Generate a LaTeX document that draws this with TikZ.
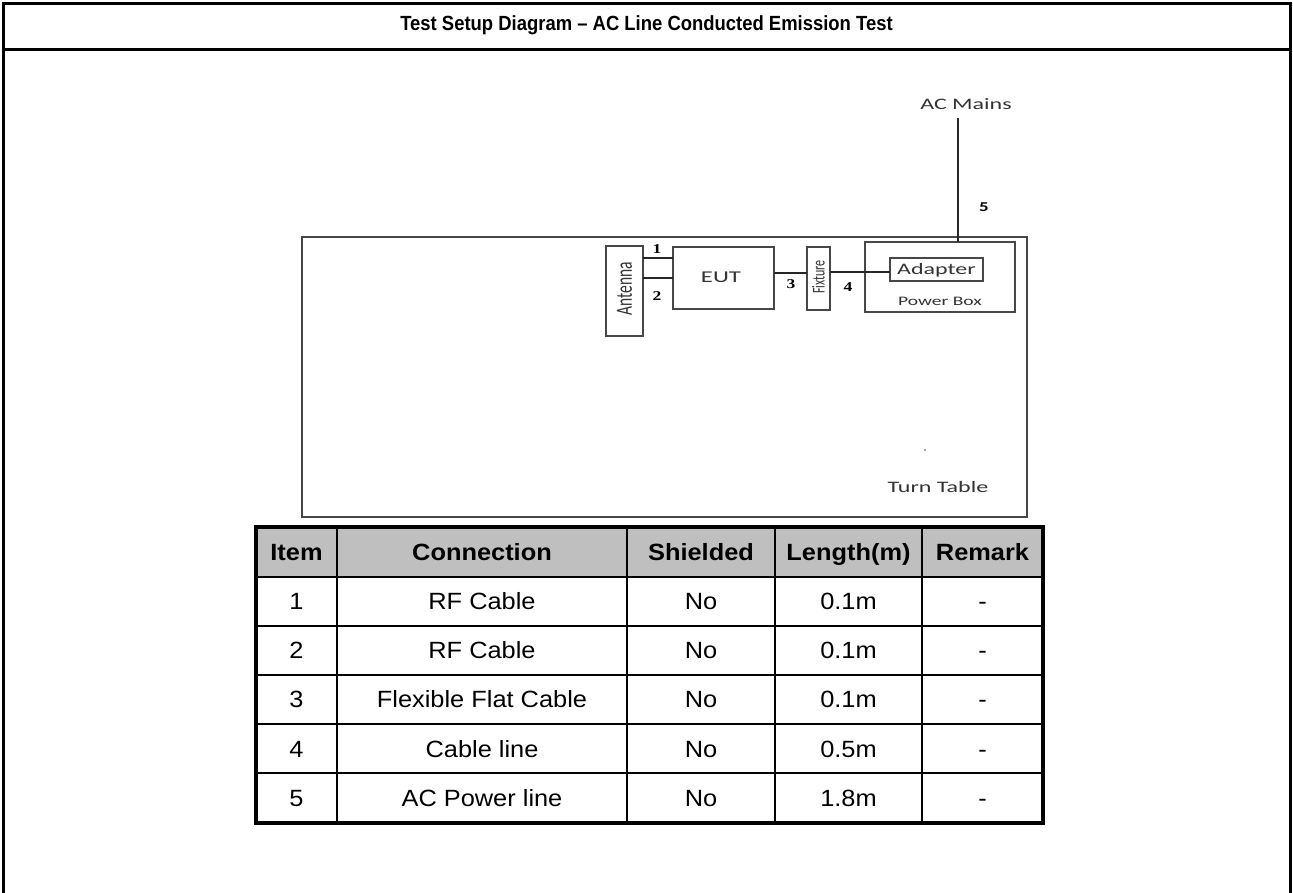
\documentclass[tikz,border=0pt]{standalone}
\usepackage{fontspec}
\usepackage{graphicx}
\setmainfont{Liberation Sans}
\newfontfamily\calfont{Carlito}
\newfontfamily\numfont{Liberation Serif}
\newcommand\sxw[1]{\scalebox{1.5}[1]{#1}}
\newcommand\sxt[1]{\scalebox{1.08}[1]{#1}}
\begin{document}
\begin{tikzpicture}[x=1pt,y=-1pt,
  frameline/.style={line width=3pt, black},
  diagbox/.style={draw=black!72, line width=1.4pt, inner sep=0pt, outer sep=0pt},
  wire/.style={black!85, line width=1.3pt},
  lbl/.style={inner sep=0pt, text=black!80, font=\calfont\fontsize{16}{16}\selectfont},
  smalllbl/.style={inner sep=0pt, text=black!80, font=\calfont\fontsize{13}{13}\selectfont},
  numlbl/.style={inner sep=0pt, font=\numfont\bfseries\fontsize{13.5}{13.5}\selectfont},
  tabtxt/.style={inner sep=0pt, text height=16.8pt, text depth=0pt, font=\fontsize{23.5}{23.5}\selectfont},
  tabhead/.style={tabtxt, font=\bfseries\fontsize{23.5}{23.5}\selectfont},
  gridin/.style={line width=2.5pt, black},
  gridout/.style={line width=3.5pt, black}]
\useasboundingbox (0,0) rectangle (1293,893);
\fill[white] (0,0) rectangle (1293,893);
% outer frame
\draw[frameline] (3,893) -- (3,4) -- (1290,4) -- (1290,893);
\draw[frameline] (3,50) -- (1290,50);
\node[inner sep=0pt, font=\bfseries\fontsize{20.5}{22}\selectfont] (title) at (646.5,25) {\scalebox{0.9}[1]{Test Setup Diagram – AC Line Conducted Emission Test}};
% turn table
\node[diagbox, anchor=north west, minimum width=725pt, minimum height=280pt] (tt) at (302,237) {};
\node[lbl] (ttl) at (938,487) {\sxw{Turn Table}};
\node[circle, fill=black!70, inner sep=0pt, minimum size=1.8pt] (dot) at (925,450) {};
% antenna
\node[diagbox, anchor=north west, minimum width=37pt, minimum height=90pt] (ant) at (606,246) {};
\node[lbl, font=\calfont\fontsize{15.5}{15.5}\selectfont] (antl) at (624.5,289) {\sxw{\rotatebox{90}{Antenna}}};
% EUT
\node[diagbox, anchor=north west, minimum width=101pt, minimum height=62pt] (eut) at (673,247) {};
\node[lbl, font=\calfont\fontsize{16.5}{16.5}\selectfont] (eutl) at (721,277) {\sxw{EUT}};
% fixture
\node[diagbox, anchor=north west, minimum width=23pt, minimum height=63pt] (fix) at (807,247) {};
\node[lbl, font=\calfont\fontsize{12}{12}\selectfont] (fixl) at (818.5,277) {\sxw{\rotatebox{90}{Fixture}}};
% power box
\node[diagbox, anchor=north west, minimum width=150pt, minimum height=70pt] (pb) at (865,242) {};
\node[diagbox, anchor=north west, minimum width=93pt, minimum height=23pt] (ad) at (890,258) {};
\node[lbl] (adl) at (936.5,270) {\sxw{Adapter}};
\node[smalllbl] (pbl) at (940,301) {\sxw{Power Box}};
% AC mains
\node[lbl] (acm) at (966,104) {\sxw{AC Mains}};
\coordinate (acend) at (958,118);
% wires
\coordinate (y1) at (0,258);
\coordinate (y2) at (0,278);
\coordinate (y3) at (0,273);
\coordinate (y4) at (0,272);
\draw[wire] (ant.east |- y1) -- (eut.west |- y1);
\draw[wire] (ant.east |- y2) -- (eut.west |- y2);
\draw[wire] (eut.east |- y3) -- (fix.west |- y3);
\draw[wire] (fix.east |- y4) -- (ad.west |- y4);
\draw[wire] (acend) -- (acend |- pb.north);
% numbers
\node[numlbl] (n1) at (657,249) {\scalebox{1.3}[1]{1}};
\node[numlbl] (n2) at (657,296) {\scalebox{1.3}[1]{2}};
\node[numlbl] (n3) at (791,284) {\scalebox{1.3}[1]{3}};
\node[numlbl] (n4) at (848,287) {\scalebox{1.3}[1]{4}};
\node[inner sep=0pt, font=\calfont\bfseries\fontsize{13.5}{13.5}\selectfont] (n5) at (984,207) {\scalebox{1.4}[1]{5}};
% table
\fill[black!25] (256,527) rectangle (1043,577);
\foreach \yy in {577,626,675,724,773} \draw[gridin] (256,\yy) -- (1043,\yy);
\foreach \xx in {337,627,775,922} \draw[gridin] (\xx,527) -- (\xx,823);
\draw[gridout] (256,527) rectangle (1043,823);
\node[tabhead] (h1) at (296.5,552) {\sxt{Item}};
\node[tabhead] (h2) at (482,552) {\sxt{Connection}};
\node[tabhead] (h3) at (701,552) {\sxt{Shielded}};
\node[tabhead] (h4) at (848.5,552) {\sxt{Length(m)}};
\node[tabhead] (h5) at (982.5,552) {\sxt{Remark}};
\foreach \i/\yy/\conn/\len in {1/601.5/RF Cable/0.1m, 2/650.5/RF Cable/0.1m, 3/699.5/Flexible Flat Cable/0.1m, 4/749/Cable line/0.5m, 5/798/AC Power line/1.8m}{
  \node[tabtxt] (r\i c1) at (296.5,\yy) {\sxt{\i}};
  \node[tabtxt] (r\i c2) at (482,\yy) {\sxt{\conn}};
  \node[tabtxt] (r\i c3) at (701,\yy) {\sxt{No}};
  \node[tabtxt] (r\i c4) at (848.5,\yy) {\sxt{\len}};
  \node[tabtxt] (r\i c5) at (982.5,\yy) {\sxt{-}};
}
\end{tikzpicture}
\end{document}
